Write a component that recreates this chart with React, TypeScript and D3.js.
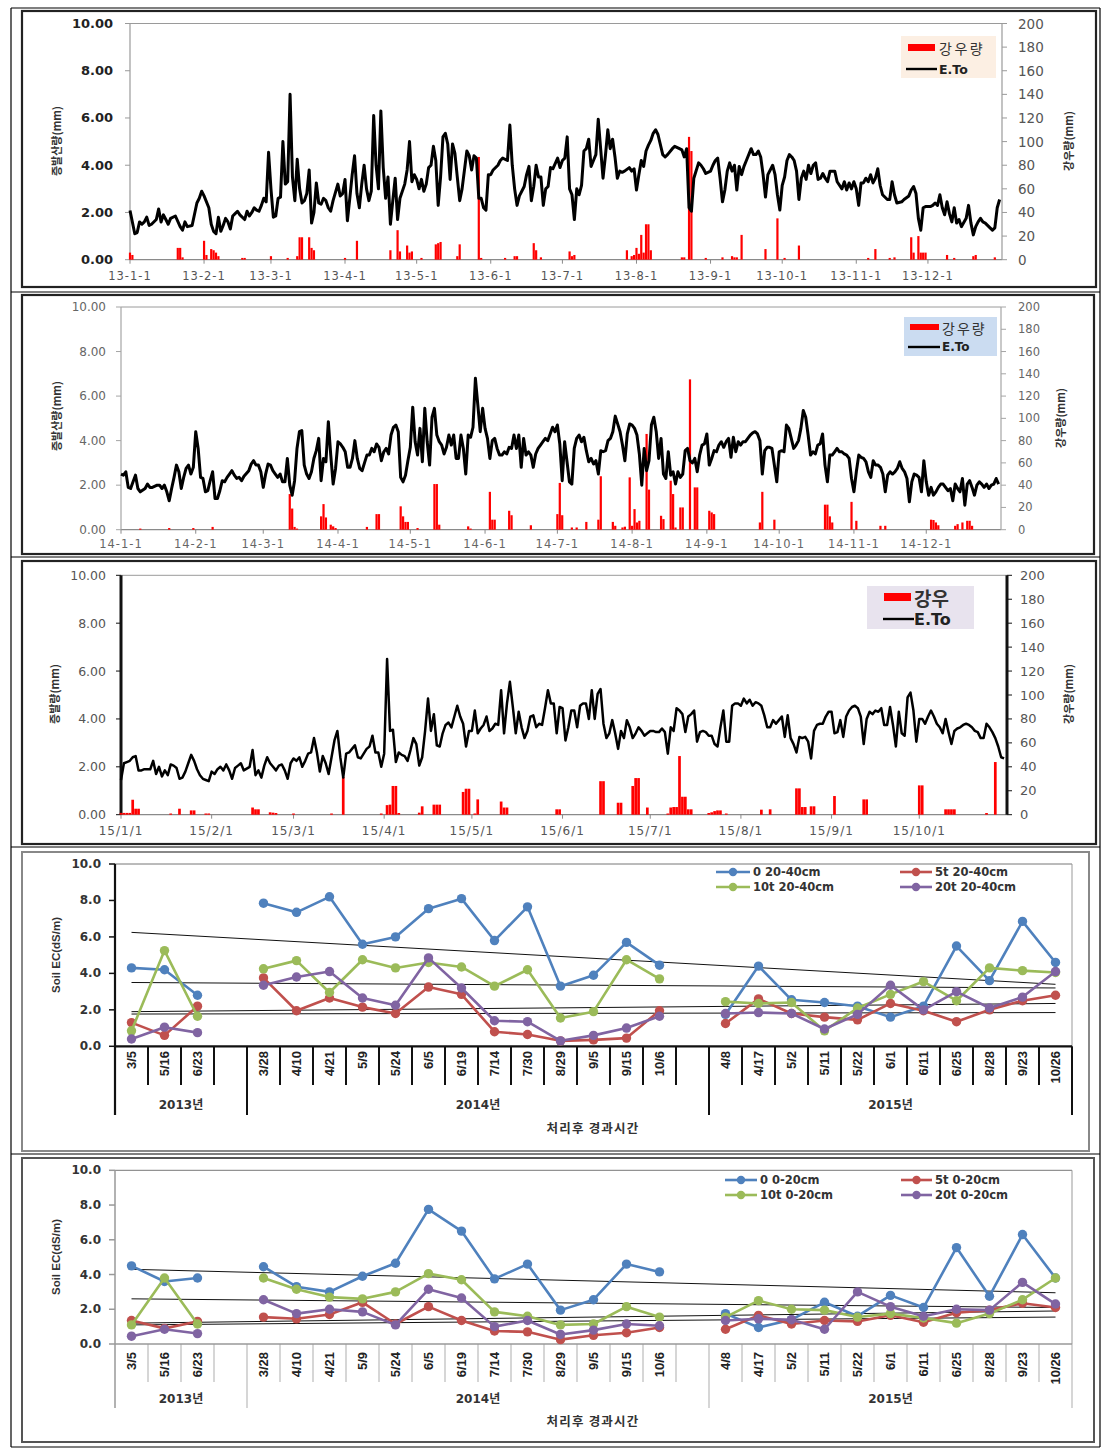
import React from "react";
import * as d3 from "d3";

type Pt = [number, number];

// ---------------- DATA ----------------
const MONTH_START = [0, 31, 59, 90, 120, 151, 181, 212, 243, 273, 304, 334];
const LABELS_2013 = ["13-1-1", "13-2-1", "13-3-1", "13-4-1", "13-5-1", "13-6-1", "13-7-1", "13-8-1", "13-9-1", "13-10-1", "13-11-1", "13-12-1"];
const LABELS_2014 = ["14-1-1", "14-2-1", "14-3-1", "14-4-1", "14-5-1", "14-6-1", "14-7-1", "14-8-1", "14-9-1", "14-10-1", "14-11-1", "14-12-1"];
const LABELS_2015 = ["15/1/1", "15/2/1", "15/3/1", "15/4/1", "15/5/1", "15/6/1", "15/7/1", "15/8/1", "15/9/1", "15/10/1"];
const ET_TICKS = [0, 2, 4, 6, 8, 10];
const RAIN_TICKS = [0, 20, 40, 60, 80, 100, 120, 140, 160, 180, 200];

// [day of year, E.To mm]
const ET2013: Pt[] = [
  [0,2.08],[2,1.1],[3,1.15],[4,1.6],[5,1.5],[6,1.6],[7,1.8],[8,1.45],[9,1.5],[11,1.7],[12,2.15],[13,1.6],[14,1.9],[15,1.7],[16,1.5],[17,1.75],[19,1.85],[21,1.4],[22,1.25],[23,1.6],[24,1.4],[26,1.45],[28,2.4],[29,2.6],[30,2.9],[31,2.7],[33,2.2],[34,1.5],[35,1.2],[36,1.1],[37,1.8],[38,1.2],[39,1.45],[40,1.75],[41,1.6],[42,1.3],[43,1.85],[44,1.95],[45,2.05],[46,1.9],[48,1.7],[49,2.05],[50,1.85],[51,2.0],[52,2.2],[53,2.1],[54,2.05],[55,2.3],[56,2.6],[57,2.45],[58,4.55],[59,3.0],[60,1.8],[61,1.85],[62,2.6],[63,2.65],[64,5.0],[65,3.2],[66,3.3],[67,7.0],[68,3.5],[69,2.5],[70,4.25],[71,3.0],[72,2.4],[73,2.5],[74,2.8],[75,3.8],[76,1.55],[77,2.0],[78,3.25],[79,2.4],[80,2.35],[81,2.6],[82,2.5],[83,2.2],[84,2.05],[85,2.5],[86,2.85],[87,3.2],[88,2.7],[89,2.8],[90,3.4],[91,1.65],[92,2.6],[93,3.6],[94,4.4],[95,2.8],[96,2.2],[97,3.2],[98,4.0],[99,3.0],[100,2.5],[101,2.9],[102,6.1],[103,4.0],[104,3.0],[105,6.3],[106,3.9],[107,2.6],[108,3.5],[109,1.5],[110,2.5],[111,3.45],[112,1.7],[113,2.6],[115,3.2],[116,3.8],[117,5.0],[118,3.3],[119,3.6],[120,3.4],[121,3.0],[122,3.4],[123,2.9],[124,3.2],[125,3.9],[126,4.0],[127,4.8],[128,4.2],[129,2.3],[130,3.5],[131,5.2],[132,5.35],[133,4.9],[134,3.4],[135,4.9],[136,4.5],[137,3.5],[138,2.5],[139,3.0],[141,4.6],[142,4.4],[143,3.8],[144,4.4],[145,4.3],[146,2.6],[147,2.6],[148,2.2],[149,2.1],[150,3.6],[151,3.6],[152,3.8],[154,4.0],[155,4.2],[156,4.3],[158,4.2],[159,5.7],[160,4.0],[161,3.0],[162,2.3],[163,2.7],[165,3.1],[166,3.6],[167,3.95],[168,2.5],[169,3.1],[170,4.0],[171,3.5],[172,3.5],[173,2.3],[174,3.0],[175,3.1],[176,3.9],[177,3.85],[179,4.3],
  [180,3.9],[181,4.2],[182,4.3],[183,5.2],[184,3.0],[185,2.75],[186,1.7],[187,3.0],[188,2.75],[189,3.15],[190,4.6],[191,4.7],[192,5.1],[193,3.95],[194,4.2],[195,4.45],[196,5.95],[197,4.7],[198,3.45],[199,4.4],[200,5.5],[201,4.7],[202,5.1],[203,4.35],[204,3.45],[205,3.75],[206,3.7],[207,3.75],[209,3.9],[210,3.75],[211,3.85],[212,2.95],[213,3.6],[214,4.2],[215,3.95],[216,4.6],[217,4.85],[218,5.05],[219,5.35],[220,5.5],[221,5.3],[223,4.45],[224,4.35],[225,4.45],[227,4.7],[228,4.8],[230,4.7],[231,4.65],[232,4.35],[233,4.7],[234,2.2],[235,2.05],[236,3.45],[238,4.1],[239,4.0],[240,3.85],[241,3.65],[243,3.75],[244,4.0],[245,4.2],[246,4.3],[247,3.45],[248,2.45],[249,2.95],[250,3.75],[251,4.1],[252,3.75],[253,4.0],[254,2.95],[255,3.95],[256,3.6],[257,3.95],[258,4.2],[260,4.7],[261,4.45],[262,4.45],[263,4.6],[264,4.35],[265,3.6],[266,2.65],[267,3.6],[269,4.0],[270,3.6],[271,2.75],[272,2.1],[273,3.15],[274,3.5],[275,4.2],[276,4.45],[277,4.35],[278,4.2],[279,3.75],[280,2.55],[281,3.45],[282,3.75],[283,3.4],[284,4.0],[285,3.65],[286,4.0],[287,4.1],[288,3.4],[289,3.45],[290,3.65],[291,3.45],[292,3.3],[293,3.75],[295,3.75],[296,3.3],[298,3.0],[299,3.3],[300,2.95],[301,3.25],[302,3.0],[303,3.3],[304,3.0],[305,2.3],[306,3.25],[307,3.25],[308,3.45],[309,3.3],[310,3.6],[311,3.25],[312,3.45],[313,3.85],[314,3.15],[315,2.75],[317,2.55],[318,2.55],[319,3.3],[320,2.75],[321,2.4],[323,2.45],[324,2.55],[326,2.7],[327,2.95],[328,3.1],[329,2.8],[330,1.75],[331,1.25],[332,2.2],[333,2.25],[335,2.25],[336,2.3],[337,2.4],[338,2.3],[339,2.75],[340,2.2],[341,1.9],[342,2.45],[343,1.95],[344,1.6],[345,2.2],[346,1.55],[347,1.7],[348,1.4],[350,1.75],[351,2.3],[352,1.55],[353,1.05],[354,1.4],[355,1.6],[356,1.75],[357,1.6],[358,1.55],[360,1.35],[361,1.25],[362,1.35],[363,2.2],[364,2.55]
];

// [day of year, rainfall mm]
const RAIN2013: Pt[] = [
  [0,6],[1,4],[20,10],[21,10],[22,2],[31,16],[32,4],[34,9],[35,8],[36,6],[37,3],[47,1.5],[48,1.5],[59,3],[66,1.5],[70,3],[71,19],[72,19],[75,19],[76,10],[77,8],[90,1.5],[95,16],[109,8],[112,25],[113,7],[116,12],[117,6],[118,7],[122,1.5],[128,13],[129,14],[130,15],[137,3],[138,13],[146,87],[147,1.5],[157,1.5],[161,3],[162,3],[169,14],[170,8],[172,2],[184,7],[185,3],[186,4],[208,8],[210,3],[211,4],[212,10],[213,5],[214,21],[215,6],[216,30],[217,30],[218,8],[231,2],[232,2],[234,104],[235,92],[241,1.5],[248,2],[252,3],[253,2],[254,2],[256,21],[266,9],[271,35],[274,1.5],[280,12],[309,1.5],[312,9],[318,1.5],[320,2],[327,19],[328,6],[330,20],[331,6],[332,6],[333,6],[342,4],[345,1.5],[353,3],[354,4],[362,2]
];

const ET2014: Pt[] = [
  [0,2.5],[1,2.45],[2,2.6],[3,1.9],[4,1.85],[5,2.15],[6,2.45],[7,1.85],[8,1.7],[10,1.85],[11,2.05],[12,1.9],[13,1.9],[15,2.0],[16,2.0],[17,1.85],[18,2.0],[19,1.7],[20,1.3],[21,1.85],[22,2.35],[23,2.9],[24,2.6],[25,1.85],[26,2.35],[27,2.75],[28,2.9],[29,2.5],[30,2.8],[31,4.4],[32,3.65],[33,2.35],[34,2.3],[35,1.7],[36,1.75],[37,2.2],[38,2.6],[39,1.4],[40,1.4],[41,1.75],[42,2.2],[43,2.15],[44,2.35],[45,2.5],[46,2.65],[47,2.45],[48,2.3],[49,2.35],[50,2.2],[51,2.4],[53,2.65],[54,2.95],[55,3.1],[56,2.9],[57,2.9],[58,2.6],[59,1.9],[60,2.5],[61,2.95],[62,2.9],[63,2.65],[64,2.5],[65,2.35],[66,2.5],[67,2.15],[68,2.15],[69,3.2],[70,2.0],[71,1.55],[72,2.2],[73,3.65],[74,4.4],[75,4.45],[76,2.9],[77,2.5],[78,2.3],[79,2.6],[80,3.2],[81,3.55],[82,4.1],[83,2.2],[84,3.2],[85,3.05],[86,4.85],[87,3.35],[88,2.05],[89,2.75],[90,3.95],[91,3.85],[92,3.7],[93,3.5],[94,2.8],[95,2.8],[96,3.2],[97,4.0],[98,3.2],[99,2.75],[100,2.65],[101,3.0],[102,3.35],[103,3.35],[104,3.65],[105,3.5],[106,3.85],[107,3.7],[108,3.1],[109,3.5],[110,3.65],[111,3.4],[112,4.25],[113,4.6],[114,4.7],[115,4.4],[116,2.35],[117,2.15],[118,2.45],[119,3.1],[120,3.7],[121,5.5],[122,3.95],[123,3.35],[124,4.55],[125,3.05],[126,5.45],[127,3.95],[128,2.9],[129,5.05],[130,5.45],[131,4.25],[132,3.95],[133,3.8],[134,3.4],[135,3.7],[136,4.25],[137,3.8],[138,4.25],[139,3.2],[140,3.2],[141,4.25],[142,3.65],[143,2.5],[144,4.25],[145,4.15],[146,4.6],[147,6.8],[148,5.6],[149,4.4],[150,5.45],[151,4.55],[152,4.1],[153,3.2],[154,4.0],[155,4.1],[156,3.65],[157,3.35],[158,3.35],[159,3.5],[160,3.4],[161,3.7],[162,3.65],[163,4.25],[164,3.65],[165,4.25],[166,2.8],[167,4.1],[168,3.35],[169,3.5],[170,3.35],[171,2.8],[172,3.4],[173,3.65],[174,3.8],[175,3.95],[176,4.1],[177,4.0],[178,4.3],[179,4.6],[180,4.4],
  [181,4.7],[182,3.85],[183,2.2],[184,3.95],[185,3.05],[186,2.15],[187,2.05],[188,3.65],[189,4.1],[190,4.25],[191,3.95],[192,4.15],[193,3.55],[194,3.05],[195,3.2],[196,2.95],[197,3.1],[198,2.5],[199,3.55],[200,3.5],[201,3.55],[202,4.0],[203,4.1],[204,4.4],[205,5.1],[206,4.75],[207,4.4],[208,3.8],[209,3.1],[210,4.3],[211,4.75],[212,4.7],[213,4.55],[214,4.25],[215,3.4],[216,2.0],[217,3.65],[218,2.65],[219,3.1],[220,4.7],[221,5.05],[222,4.4],[223,3.2],[224,4.1],[225,2.5],[226,2.3],[227,3.5],[228,2.45],[229,2.6],[230,2.05],[231,2.6],[232,2.35],[233,2.5],[234,3.55],[235,3.65],[236,3.1],[237,3.0],[238,3.2],[239,2.6],[240,3.35],[241,3.8],[242,3.85],[243,4.3],[244,2.9],[245,3.2],[246,3.55],[247,3.5],[248,3.8],[249,3.95],[250,3.7],[251,3.95],[252,4.1],[253,3.25],[254,4.15],[255,3.5],[256,3.95],[257,3.8],[258,3.95],[259,3.95],[260,4.1],[261,4.25],[262,4.35],[263,4.4],[264,4.3],[265,4.0],[266,2.5],[267,3.55],[268,3.7],[269,3.7],[270,3.65],[271,2.9],[272,2.15],[273,3.5],[274,3.55],[275,3.5],[276,4.7],[277,4.55],[278,4.1],[279,3.65],[280,3.8],[281,4.0],[282,4.55],[283,5.35],[284,5.05],[285,4.25],[286,3.35],[287,3.5],[288,3.4],[289,3.8],[290,3.85],[291,4.3],[292,2.9],[293,2.15],[294,3.35],[295,3.35],[296,3.5],[297,3.65],[298,3.5],[299,3.5],[300,3.4],[301,3.35],[302,3.2],[303,2.3],[304,1.7],[305,2.6],[306,3.35],[307,3.25],[308,3.2],[309,3.05],[310,2.6],[311,2.35],[312,3.1],[313,2.9],[314,2.9],[315,2.8],[316,2.5],[317,1.7],[318,2.45],[319,2.6],[320,2.5],[321,2.6],[322,2.75],[323,3.05],[324,2.75],[325,2.6],[326,2.3],[327,1.25],[328,2.15],[329,2.5],[330,2.45],[331,2.35],[332,1.7],[333,3.1],[334,2.15],[335,1.55],[336,1.9],[337,1.55],[338,1.7],[339,1.9],[340,2.05],[341,2.05],[342,1.9],[343,1.75],[344,1.85],[345,1.3],[346,2.05],[347,1.85],[348,1.7],[349,2.3],[350,1.1],[351,2.05],[352,2.2],[353,1.9],[354,1.55],[355,2.0],[356,2.15],[357,2.05],[358,1.9],[359,2.05],[360,1.85],[361,2.0],[362,2.05],[363,2.3],[364,2.05]
];

const RAIN2014: Pt[] = [
  [8,1],[20,1.5],[30,1.5],[38,2.5],[70,32],[71,19],[72,2.5],[73,1],[83,12],[84,23],[85,11],[87,4.5],[88,3],[89,1.5],[102,2.5],[106,14],[107,14],[116,21],[117,12],[118,7],[119,7],[123,1.5],[130,41],[131,41],[132,4.5],[144,3],[145,1],[153,34],[154,9],[155,9],[161,17],[162,13],[170,4],[181,14],[182,42],[183,13],[187,2],[189,2],[193,7],[198,9],[199,48],[204,7],[205,3.5],[208,2],[209,2.7],[211,47],[212,3.5],[213,18.5],[214,6.5],[215,8],[218,86],[219,36],[224,12.5],[225,9.5],[228,44],[229,32],[230,2],[232,20],[233,20],[236,135],[238,38],[239,38],[244,17],[245,15.5],[246,14],[265,6.5],[266,34],[271,9],[292,22.5],[293,22.5],[294,12],[295,6.5],[303,25],[305,8],[315,3.5],[317,3.5],[336,9],[337,8.7],[338,6.5],[339,4],[346,3.5],[347,5],[349,6.5],[351,8],[352,8],[353,3.5]
];

const ET2015: Pt[] = [
  [0,1.45],[1,2.15],[2,2.2],[3,2.25],[4,2.4],[5,2.45],[6,1.85],[7,1.85],[8,1.9],[10,1.9],[11,2.25],[12,1.7],[13,2.0],[14,1.6],[15,1.85],[16,1.65],[17,2.1],[18,2.05],[19,1.95],[20,1.5],[21,1.55],[22,1.8],[23,2.15],[24,2.5],[25,2.25],[26,1.9],[27,1.65],[28,1.5],[29,1.45],[30,1.4],[31,1.8],[32,1.7],[33,1.9],[34,2.0],[35,1.85],[36,2.1],[37,1.85],[38,1.5],[39,1.95],[40,2.05],[41,2.15],[42,1.85],[44,2.0],[45,2.7],[46,1.65],[47,1.85],[48,1.55],[49,2.05],[50,2.4],[51,2.15],[52,2.0],[53,1.85],[54,2.05],[55,2.1],[56,1.85],[57,1.5],[58,2.15],[59,2.35],[60,2.25],[61,2.4],[62,2.0],[63,2.25],[64,2.55],[65,2.6],[66,3.2],[67,2.6],[68,1.8],[69,2.45],[70,2.15],[71,1.7],[72,2.4],[73,3.1],[74,3.5],[75,2.4],[76,1.55],[77,2.55],[78,2.6],[79,2.75],[80,2.9],[81,2.4],[82,2.35],[83,2.55],[84,2.75],[85,2.85],[86,3.3],[87,2.6],[88,2.6],[89,2.0],[90,2.55],[91,6.5],[92,3.5],[93,3.55],[94,2.2],[95,2.6],[96,2.5],[97,2.45],[98,2.25],[99,2.7],[100,3.2],[101,2.95],[102,2.05],[103,2.4],[104,3.5],[105,4.85],[106,3.5],[107,4.2],[108,2.9],[109,2.85],[110,3.4],[111,3.75],[112,3.85],[113,3.65],[114,4.1],[115,4.55],[116,4.1],[117,3.8],[118,2.85],[119,3.5],[120,3.5],[121,4.35],[122,3.4],[123,3.6],[124,3.75],[125,4.1],[126,3.5],[127,3.6],[128,3.8],[129,3.75],[130,5.2],[131,3.4],[132,4.65],[133,5.55],[134,4.5],[135,3.4],[136,4.3],[137,3.65],[138,3.2],[139,3.5],[140,4.1],[141,4.15],[142,3.65],[143,3.8],[144,3.75],[145,4.45],[146,5.2],[147,4.65],[148,4.65],[149,3.4],[150,4.5],
  [151,4.45],[152,3.1],[153,3.65],[154,4.35],[155,4.35],[156,3.65],[157,4.55],[158,4.65],[159,4.65],[160,4.0],[161,5.2],[162,4.0],[163,5.05],[164,5.25],[165,3.8],[166,3.2],[167,3.4],[168,3.95],[169,3.4],[170,2.75],[171,3.5],[172,3.2],[173,3.95],[174,3.65],[175,3.2],[176,3.4],[177,3.65],[178,3.5],[179,3.3],[180,3.4],[181,3.5],[182,3.5],[183,3.45],[184,3.45],[185,3.6],[186,3.45],[187,2.55],[188,3.65],[189,3.5],[190,4.45],[191,4.35],[192,4.2],[193,3.45],[194,4.1],[195,4.2],[196,4.35],[197,3.05],[198,3.45],[199,3.5],[200,3.45],[201,3.3],[202,3.3],[203,2.95],[204,2.85],[205,3.65],[206,4.35],[207,3.05],[208,3.05],[209,4.55],[210,4.65],[211,4.65],[212,4.55],[213,4.85],[214,4.65],[215,4.8],[216,4.55],[217,4.7],[218,4.65],[219,4.55],[220,4.15],[221,3.65],[222,3.65],[223,3.95],[224,3.8],[225,3.95],[226,4.1],[227,3.25],[228,4.15],[229,3.2],[230,2.95],[231,2.6],[232,3.25],[233,3.2],[234,3.25],[235,3.05],[236,2.35],[237,3.5],[238,3.75],[239,3.8],[240,3.8],[241,4.1],[242,4.3],[243,4.3],[244,3.4],[245,3.45],[246,3.95],[247,3.25],[248,4.1],[249,4.35],[250,4.5],[251,4.55],[252,4.45],[253,4.1],[254,2.95],[255,4.0],[256,4.3],[257,4.2],[258,4.35],[259,4.3],[260,4.45],[261,3.75],[262,3.75],[263,4.5],[264,3.75],[265,2.85],[266,4.3],[267,3.4],[268,3.3],[269,4.9],[270,5.1],[271,4.35],[272,3.05],[273,4.0],[274,4.0],[275,3.8],[276,4.1],[277,4.35],[278,4.1],[279,3.8],[280,3.65],[281,3.4],[282,4.0],[283,3.45],[284,2.95],[285,3.5],[286,3.6],[287,3.65],[288,3.75],[289,3.8],[290,3.75],[291,3.65],[292,3.5],[293,3.45],[294,3.2],[295,3.2],[296,3.8],[297,3.65],[298,3.45],[299,3.2],[300,2.85],[301,2.4],[302,2.35]
];

const RAIN2015: Pt[] = [
  [0,1.5],[1,1.5],[2,1.5],[3,1.5],[4,12.5],[5,5],[6,5],[17,1],[20,5],[24,3.6],[25,3.6],[29,1],[30,1],[45,6],[46,4.5],[47,4.5],[51,2],[52,1.7],[53,1.4],[59,1],[72,1],[76,31.5],[89,1],[91,8],[92,8.4],[93,24],[94,24],[95,1.4],[102,1.7],[103,7],[107,8.4],[108,8.4],[109,8.4],[117,19],[118,21.7],[119,21.7],[121,1],[122,12.8],[130,11],[131,6],[132,6],[149,4.5],[150,4.5],[164,28],[165,28],[170,10],[171,10],[175,24],[176,30.6],[177,30.6],[180,6],[187,1],[188,6],[189,6.4],[190,6.4],[191,49],[192,15],[193,15],[194,4.5],[195,4.5],[201,1.4],[202,2],[203,3],[204,3.6],[205,3.6],[207,1],[219,4.2],[222,4.5],[231,22],[232,22],[233,6.4],[234,6.4],[236,7],[237,7],[244,15.6],[254,12.8],[255,12.8],[273,24.5],[274,24.5],[282,4.5],[283,4.5],[284,4.5],[285,4.5],[296,1.4],[299,44]
];

// Soil EC sampling dates
const CAT_2013 = ["3/5", "5/16", "6/23"];
const CAT_2014 = ["3/28", "4/10", "4/21", "5/9", "5/24", "6/5", "6/19", "7/14", "7/30", "8/29", "9/5", "9/15", "10/6"];
const CAT_2015 = ["4/8", "4/17", "5/2", "5/11", "5/22", "6/1", "6/11", "6/25", "8/28", "9/23", "10/26"];
const YEAR_LABELS = ["2013년", "2014년", "2015년"];
const EC_TICKS = [0, 2, 4, 6, 8, 10];

// 20-40cm
const EC_DEEP_0 = [4.3,4.2,2.8, 7.85,7.35,8.2,5.6,6.0,7.55,8.1,5.8,7.65,3.3,3.9,5.7,4.45, 1.75,4.4,2.55,2.4,2.2,1.6,2.2,5.5,3.6,6.85,4.6];
const EC_DEEP_5 = [1.3,0.6,2.2, 3.75,1.95,2.65,2.15,1.8,3.25,2.85,0.8,0.65,0.3,0.35,0.45,1.95, 1.25,2.6,1.8,1.6,1.45,2.35,1.95,1.35,2.0,2.5,2.8];
const EC_DEEP_10 = [0.85,5.25,1.65, 4.25,4.7,2.95,4.75,4.3,4.6,4.35,3.3,4.2,1.55,1.9,4.75,3.7, 2.45,2.35,2.4,0.85,2.1,2.85,3.55,2.5,4.3,4.15,4.05];
const EC_DEEP_20 = [0.4,1.05,0.75, 3.35,3.8,4.1,2.65,2.25,4.85,3.2,1.4,1.35,0.3,0.6,1.0,1.65, 1.8,1.85,1.8,0.95,1.75,3.35,2.0,3.0,2.1,2.7,4.1];
const TREND_DEEP: Pt[] = [[6.25,3.4],[3.5,3.2],[1.9,2.35],[1.77,1.85]];

// 0-20cm
const EC_TOP_0 = [4.5,3.6,3.8, 4.45,3.3,3.0,3.9,4.65,7.75,6.5,3.75,4.6,1.95,2.55,4.6,4.15, 1.75,0.95,1.4,2.4,1.6,2.8,2.1,5.55,2.75,6.3,3.8];
const EC_TOP_5 = [1.35,0.9,1.3, 1.55,1.45,1.7,2.4,1.15,2.15,1.35,0.75,0.7,0.25,0.5,0.65,0.95, 0.85,1.65,1.15,1.35,1.3,1.65,1.25,1.8,1.95,2.35,2.1];
const EC_TOP_10 = [1.1,3.8,1.15, 3.8,3.15,2.7,2.6,3.0,4.05,3.7,1.85,1.6,1.1,1.15,2.15,1.55, 1.55,2.5,2.0,1.95,1.55,1.75,1.5,1.2,1.75,2.55,3.8];
const EC_TOP_20 = [0.45,0.85,0.6, 2.55,1.75,2.0,1.85,1.1,3.15,2.65,1.0,1.35,0.55,0.8,1.15,1.05, 1.35,1.45,1.4,0.85,3.0,2.15,1.6,2.0,1.95,3.55,2.3];
const TREND_TOP: Pt[] = [[4.3,2.95],[2.6,2.1],[1.2,1.9],[1.1,1.55]];

const SERIES_NAMES_DEEP = ["0 20-40cm", "5t 20-40cm", "10t 20-40cm", "20t 20-40cm"];
const SERIES_NAMES_TOP = ["0 0-20cm", "5t 0-20cm", "10t 0-20cm", "20t 0-20cm"];

// ---------------- STYLE ----------------
const NUM = "'DejaVu Sans', 'Noto Sans CJK KR', sans-serif";
const KR = "'Noto Sans CJK KR', 'DejaVu Sans', sans-serif";
const EC_COLORS = ["#4F81BD", "#C0504D", "#9BBB59", "#8064A2"];

function RainPanel({ c }: { c: any }) {
  const x = d3.scaleLinear().domain([0, c.dayMax]).range([c.x0, c.x1]);
  const y = d3.scaleLinear().domain([0, 10]).range([c.yBot, c.yTop]);
  const yr = d3.scaleLinear().domain([0, 200]).range([c.yBot, c.yTop]);
  const line = d3.line<Pt>().x((d) => x(d[0])).y((d) => y(d[1]));
  const bw = (x(1) - x(0)) * 0.92;
  const labelDays = c.labels.map((_: string, i: number) => MONTH_START[i]);
  return (
    <g>
      <rect x={c.frame[0]} y={c.frame[1]} width={c.frame[2] - c.frame[0]} height={c.frame[3] - c.frame[1]} fill="#fff" stroke="#222" strokeWidth={2.2} />
      <line x1={c.x0} x2={c.x1} y1={c.yTop} y2={c.yTop} stroke="#9a9a9a" strokeWidth={1} />
      <line x1={c.x0} x2={c.x1} y1={c.yBot} y2={c.yBot} stroke="#8a8a8a" strokeWidth={1.2} />
      <line x1={c.x0} x2={c.x0} y1={c.yTop} y2={c.yBot} stroke={c.axisColor} strokeWidth={c.axisWidth} />
      <line x1={c.x1} x2={c.x1} y1={c.yTop} y2={c.yBot} stroke={c.axisColor} strokeWidth={c.axisWidth} />
      {ET_TICKS.map((t) => (
        <g key={"l" + t}>
          <line x1={c.x0 - 5} x2={c.x0} y1={y(t)} y2={y(t)} stroke={c.axisColor} strokeWidth={1} />
          <text x={c.leftLabelX} y={y(t)} textAnchor="end" dominantBaseline="central" fontFamily={NUM} fontSize={c.leftSize} fontWeight={c.leftWeight} fill={c.leftColor}>{t.toFixed(2)}</text>
        </g>
      ))}
      {RAIN_TICKS.map((t) => (
        <g key={"r" + t}>
          <line x1={c.x1} x2={c.x1 + 5} y1={yr(t)} y2={yr(t)} stroke={c.axisColor} strokeWidth={1} />
          <text x={c.rightLabelX} y={yr(t)} textAnchor="start" dominantBaseline="central" fontFamily={NUM} fontSize={c.rightSize} fill={c.rightColor}>{t}</text>
        </g>
      ))}
      {c.labels.map((lab: string, i: number) => (
        <g key={lab}>
          <line x1={x(labelDays[i])} x2={x(labelDays[i])} y1={c.yBot} y2={c.yBot + 4} stroke="#8a8a8a" strokeWidth={1} />
          <text x={x(labelDays[i])} y={c.xLabelY} textAnchor="middle" dominantBaseline="central" fontFamily={NUM} fontSize={c.xSize} letterSpacing={c.xSpacing} fill={c.xColor}>{lab}</text>
        </g>
      ))}
      {c.rain.map((d: Pt, i: number) => (
        <rect key={i} x={x(d[0]) - bw / 2} y={yr(d[1])} width={bw} height={c.yBot - yr(d[1])} fill="#FF0000" />
      ))}
      <path d={line(c.et) || ""} fill="none" stroke="#000" strokeWidth={c.lineWidth} strokeLinejoin="round" />
      <text transform={`translate(${c.leftTitle[0]},${c.leftTitle[1]}) rotate(-90)`} textAnchor="middle" dominantBaseline="central" fontFamily={KR} fontSize={11} fontWeight="bold" fill="#333">{c.leftTitleText}</text>
      <text transform={`translate(${c.rightTitle[0]},${c.rightTitle[1]}) rotate(-90)`} textAnchor="middle" dominantBaseline="central" fontFamily={KR} fontSize={11} fontWeight="bold" fill="#333">강우량(mm)</text>
      <rect x={c.lg.box[0]} y={c.lg.box[1]} width={c.lg.box[2]} height={c.lg.box[3]} fill={c.lg.fill} />
      <rect x={c.lg.sw[0]} y={c.lg.sw[1]} width={c.lg.sw[2]} height={c.lg.sw[3]} fill="#FF0000" />
      <text x={c.lg.t1[0]} y={c.lg.t1[1]} dominantBaseline="central" fontFamily={KR} fontSize={c.lg.t1[2]} fontWeight={c.lg.t1w} letterSpacing={c.lg.t1[3]} fill="#333">{c.lg.rainText}</text>
      <line x1={c.lg.ln[0]} x2={c.lg.ln[1]} y1={c.lg.ln[2]} y2={c.lg.ln[2]} stroke="#000" strokeWidth={2.4} />
      <text x={c.lg.t2[0]} y={c.lg.t2[1]} dominantBaseline="central" fontFamily={NUM} fontSize={c.lg.t2[2]} fontWeight="bold" fill="#222">E.To</text>
    </g>
  );
}

function ECPanel({ c }: { c: any }) {
  const cats = [...CAT_2013, "", ...CAT_2014, "", ...CAT_2015];
  const x = d3.scaleBand<number>().domain(d3.range(cats.length)).range([c.x0, c.x1]);
  const bw = x.bandwidth();
  const cx = (i: number) => (x(i) as number) + bw / 2;
  const y = d3.scaleLinear().domain([0, 10]).range([c.yBot, c.yTop]);
  const fullIndex = (k: number) => (k < CAT_2013.length ? k : k < CAT_2013.length + CAT_2014.length ? k + 1 : k + 2);
  const groups = [
    [0, CAT_2013.length + 1],
    [CAT_2013.length + 1, CAT_2013.length + CAT_2014.length + 2],
    [CAT_2013.length + CAT_2014.length + 2, cats.length],
  ];
  const groupEdges = new Set(groups.map((g) => g[0]).concat([cats.length]));
  const segOf = (k: number) => (k < CAT_2013.length ? 0 : k < CAT_2013.length + CAT_2014.length ? 1 : 2);
  const line = d3.line<[number, number]>().x((d) => cx(d[0])).y((d) => y(d[1]));
  const edgeX = (i: number) => (i >= cats.length ? c.x1 : (x(i) as number));
  return (
    <g>
      <rect x={c.frame[0]} y={c.frame[1]} width={c.frame[2] - c.frame[0]} height={c.frame[3] - c.frame[1]} fill="#fff" stroke={c.frameColor} strokeWidth={2} />
      <line x1={c.x0} x2={c.x1} y1={c.yTop} y2={c.yTop} stroke="#777" strokeWidth={1} />
      <line x1={c.x1} x2={c.x1} y1={c.yTop} y2={c.yBot} stroke="#999" strokeWidth={1} />
      {d3.range(1, cats.length + 1).map((i) => (
        <line key={"s" + i} x1={edgeX(i)} x2={edgeX(i)} y1={c.yBot} y2={groupEdges.has(i) ? c.groupBot : c.sepBot} stroke={c.sepColor} strokeWidth={c.sepWidth} />
      ))}
      <line x1={c.x0} x2={c.x0} y1={c.yTop} y2={c.groupBot} stroke={c.axisColor} strokeWidth={c.axisWidth} />
      <line x1={c.x0} x2={c.x1} y1={c.yBot} y2={c.yBot} stroke={c.axisColor} strokeWidth={c.axisWidth} />
      {EC_TICKS.map((t) => (
        <g key={"t" + t}>
          <line x1={c.x0 - 6} x2={c.x0} y1={y(t)} y2={y(t)} stroke={c.axisColor} strokeWidth={1.5} />
          <text x={c.x0 - 14} y={y(t)} textAnchor="end" dominantBaseline="central" fontFamily={NUM} fontSize={12} fontWeight="bold" fill="#333">{t.toFixed(1)}</text>
        </g>
      ))}
      {cats.map((lab, i) => lab ? (
        <text key={"c" + i} transform={`translate(${cx(i)},${c.catLabelY}) rotate(-90)`} textAnchor="end" dominantBaseline="central" fontFamily="'Liberation Sans Narrow', 'Liberation Sans', sans-serif" fontSize={13} fontWeight="bold" fill="#222">{lab}</text>
      ) : null)}
      {groups.map((g, i) => (
        <text key={"g" + i} x={(edgeX(g[0]) + edgeX(g[1])) / 2} y={c.yearY} textAnchor="middle" dominantBaseline="central" fontFamily={NUM} fontSize={12} fontWeight="bold" fill="#333">{YEAR_LABELS[i]}</text>
      ))}
      <text x={593} y={c.titleY} textAnchor="middle" dominantBaseline="central" fontFamily={KR} fontSize={12.5} fontWeight="bold" letterSpacing={1.2} fill="#333">처리후 경과시간</text>
      <text transform={`translate(55.5,${c.yTitleY}) rotate(-90)`} textAnchor="middle" dominantBaseline="central" fontFamily="'Liberation Sans', sans-serif" fontSize={11.5} fontWeight="bold" fill="#333">Soil EC(dS/m)</text>
      {c.trends.map((t: Pt, i: number) => (
        <line key={"tr" + i} x1={cx(0)} x2={cx(cats.length - 1)} y1={y(t[0])} y2={y(t[1])} stroke="#111" strokeWidth={1} />
      ))}
      {c.series.map((vals: number[], si: number) => {
        const pts = vals.map((v, k) => [fullIndex(k), v] as [number, number]);
        const segs = [0, 1, 2].map((s) => pts.filter((_, k) => segOf(k) === s));
        return (
          <g key={"sr" + si}>
            {segs.map((sg, j) => (
              <path key={j} d={line(sg) || ""} fill="none" stroke={EC_COLORS[si]} strokeWidth={2.6} strokeLinejoin="round" />
            ))}
            {pts.map((p, k) => (
              <circle key={k} cx={cx(p[0])} cy={y(p[1])} r={4.7} fill={EC_COLORS[si]} />
            ))}
          </g>
        );
      })}
      {c.names.map((nm: string, i: number) => {
        const col = c.legendCols[i % 2];
        const ry = c.legendRows[i < 2 ? 0 : 1];
        return (
          <g key={"lg" + i}>
            <line x1={col[0]} x2={col[1]} y1={ry} y2={ry} stroke={EC_COLORS[i]} strokeWidth={2.6} />
            <circle cx={(col[0] + col[1]) / 2} cy={ry} r={4.2} fill={EC_COLORS[i]} />
            <text x={col[1] + 3} y={ry} dominantBaseline="central" fontFamily={NUM} fontSize={11.5} fontWeight="bold" fill="#333">{nm}</text>
          </g>
        );
      })}
    </g>
  );
}

export default function App() {
  const p1 = {
    frame: [22, 11, 1096, 287], x0: 130, x1: 1002, dayMax: 365, yTop: 23.5, yBot: 259.7,
    et: ET2013, rain: RAIN2013, labels: LABELS_2013,
    axisColor: "#9a9a9a", axisWidth: 1.2,
    leftLabelX: 113, leftSize: 13, leftWeight: "bold", leftColor: "#222",
    rightLabelX: 1018, rightSize: 13.5, rightColor: "#555",
    xLabelY: 276, xSize: 11.5, xSpacing: 1, xColor: "#555", lineWidth: 3,
    leftTitle: [55.5, 141], leftTitleText: "증발산량(mm)", rightTitle: [1068, 141],
    lg: { box: [901, 36, 95, 42], fill: "#FCEFE3", sw: [908, 44, 27, 7], t1: [939, 47.5, 14, 2.5], t1w: "normal", rainText: "강우량", ln: [906, 937, 69], t2: [939, 69, 12.5] },
  };
  const p2 = {
    frame: [22, 295, 1094, 554], x0: 121, x1: 1001, dayMax: 365, yTop: 307, yBot: 529.7,
    et: ET2014, rain: RAIN2014, labels: LABELS_2014,
    axisColor: "#a5a5a5", axisWidth: 1.2,
    leftLabelX: 106, leftSize: 12, leftWeight: "normal", leftColor: "#666",
    rightLabelX: 1018, rightSize: 11.5, rightColor: "#666",
    xLabelY: 544, xSize: 11.5, xSpacing: 1, xColor: "#666", lineWidth: 3,
    leftTitle: [55.5, 416], leftTitleText: "증발산량(mm)", rightTitle: [1060, 418],
    lg: { box: [904, 317, 93, 39], fill: "#CBDCF1", sw: [910, 324, 29, 6], t1: [942, 327.5, 14, 2], t1w: "normal", rainText: "강우량", ln: [908, 940, 347], t2: [942, 347, 12] },
  };
  const p3 = {
    frame: [22, 561, 1096, 844], x0: 121, x1: 1007, dayMax: 303, yTop: 575.3, yBot: 814.7,
    et: ET2015, rain: RAIN2015, labels: LABELS_2015,
    axisColor: "#111", axisWidth: 3,
    leftLabelX: 106, leftSize: 12.5, leftWeight: "normal", leftColor: "#555",
    rightLabelX: 1020, rightSize: 13, rightColor: "#555",
    xLabelY: 831, xSize: 12, xSpacing: 1, xColor: "#555", lineWidth: 2.5,
    leftTitle: [54, 694], leftTitleText: "증발량(mm)", rightTitle: [1068, 694],
    lg: { box: [867, 586, 107, 43], fill: "#E8E3EE", sw: [884, 593, 27, 8], t1: [914, 597, 19, 0], t1w: "bold", rainText: "강우", ln: [883, 914, 619], t2: [914, 619, 16] },
  };
  const p4 = {
    frame: [22, 852, 1089, 1151], frameColor: "#888", x0: 115, x1: 1072, yTop: 864, yBot: 1046.3,
    catLabelY: 1051, sepBot: 1085, groupBot: 1115, yearY: 1105, titleY: 1127, yTitleY: 955,
    axisColor: "#111", axisWidth: 2.2, sepColor: "#111", sepWidth: 2,
    series: [EC_DEEP_0, EC_DEEP_5, EC_DEEP_10, EC_DEEP_20], trends: TREND_DEEP, names: SERIES_NAMES_DEEP,
    legendCols: [[716, 750], [900, 932]], legendRows: [872, 887],
  };
  const p5 = {
    frame: [22, 1158, 1094, 1442], frameColor: "#555", x0: 115, x1: 1072, yTop: 1170.3, yBot: 1344,
    catLabelY: 1352, sepBot: 1382, groupBot: 1408, yearY: 1399, titleY: 1420, yTitleY: 1257,
    axisColor: "#999", axisWidth: 1.5, sepColor: "#bbb", sepWidth: 1.2,
    series: [EC_TOP_0, EC_TOP_5, EC_TOP_10, EC_TOP_20], trends: TREND_TOP, names: SERIES_NAMES_TOP,
    legendCols: [[725, 757], [901, 932]], legendRows: [1180, 1195],
  };
  const gridY = [8, 292, 557, 847, 1154, 1447];
  return (
    <svg width={1115} height={1456} style={{ position: "absolute", left: 0, top: 0, background: "#fff" }}>
      <rect x={0} y={0} width={1115} height={1456} fill="#fff" />
      <RainPanel c={p1} />
      <RainPanel c={p2} />
      <RainPanel c={p3} />
      <ECPanel c={p4} />
      <ECPanel c={p5} />
      {gridY.map((gy) => (
        <line key={gy} x1={11} x2={1100} y1={gy} y2={gy} stroke="#000" strokeWidth={1.2} />
      ))}
      <line x1={11} x2={11} y1={8} y2={1447} stroke="#000" strokeWidth={1.2} />
      <line x1={1100} x2={1100} y1={8} y2={1447} stroke="#000" strokeWidth={1.2} />
    </svg>
  );
}
